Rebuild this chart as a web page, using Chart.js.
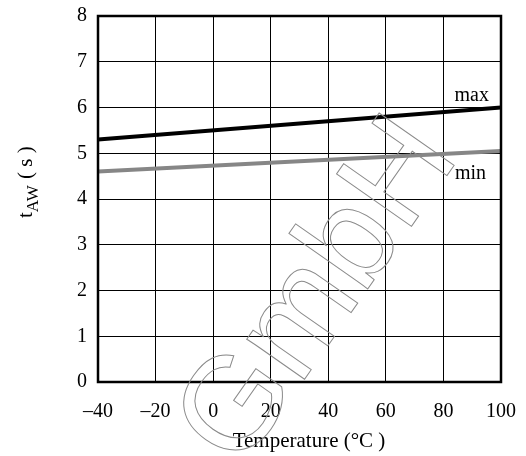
<!DOCTYPE html>
<html>
<head>
<meta charset="utf-8">
<script src="https://cdn.jsdelivr.net/npm/chart.js@4.4.1/dist/chart.umd.min.js"></script>
<style>
    body { margin: 0; background: #fff; }
    #wrap { width: 526px; height: 456px; position: relative; }
</style>
</head>
<body>
<div id="wrap"><canvas id="tawChart"></canvas></div>
<script>
// values
const temperatures = [-40, 100];
const tawMax = [5.3, 6.0];
const tawMin = [4.6, 5.05];
const xTicks = [-40, -20, 0, 20, 40, 60, 80, 100];
const yTicks = [0, 1, 2, 3, 4, 5, 6, 7, 8];

const serif = "'Liberation Serif', 'DejaVu Serif', serif";

// frame, axis titles, curve labels and the watermark
const decorations = {
    id: "decorations",
    afterDatasetsDraw(chart) {
        const ctx = chart.ctx;
        const area = chart.chartArea;
        const xs = chart.scales.x;
        const ys = chart.scales.y;

        ctx.save();
        ctx.strokeStyle = "#000";
        ctx.lineWidth = 2.5;
        ctx.strokeRect(area.left, area.top, area.right - area.left, area.bottom - area.top);

        ctx.fillStyle = "#000";
        ctx.font = "20px " + serif;
        ctx.textBaseline = "alphabetic";
        ctx.textAlign = "right";
        ctx.fillText("max", xs.getPixelForValue(100) - 12, ys.getPixelForValue(6.0) - 7);
        ctx.fillText("min", xs.getPixelForValue(100) - 15, ys.getPixelForValue(5.05) + 28);

        // x title
        ctx.textAlign = "center";
        ctx.font = "21px " + serif;
        ctx.fillText("Temperature (°C )", 309, 447);

        // y title with subscript
        ctx.translate(32, 218);
        ctx.rotate(-Math.PI / 2);
        ctx.textAlign = "left";
        ctx.font = "21px " + serif;
        ctx.fillText("t", 0, 0);
        let w = ctx.measureText("t").width;
        ctx.font = "17px " + serif;
        ctx.fillText("AW", w, 6);
        w += ctx.measureText("AW").width;
        ctx.font = "21px " + serif;
        ctx.fillText(" ( s )", w + 1, 0);
        ctx.restore();

        // watermark
        ctx.save();
        ctx.translate(320, 293);
        ctx.rotate(-55 * Math.PI / 180);
        ctx.font = "133px 'Liberation Sans', Arial, sans-serif";
        ctx.textAlign = "center";
        ctx.textBaseline = "middle";
        ctx.strokeStyle = "#8a8a8a";
        ctx.lineWidth = 1;
        ctx.strokeText("GmbH", 0, 0);
        ctx.restore();
    }
};

const ctx = document.getElementById("tawChart").getContext("2d");
new Chart(ctx, {
    type: "line",
    data: {
        datasets: [
            {
                label: "max",
                data: temperatures.map((t, i) => ({ x: t, y: tawMax[i] })),
                borderColor: "#000000",
                borderWidth: 4,
                pointRadius: 0,
                fill: false,
            },
            {
                label: "min",
                data: temperatures.map((t, i) => ({ x: t, y: tawMin[i] })),
                borderColor: "#868686",
                borderWidth: 4,
                pointRadius: 0,
                fill: false,
            },
        ],
    },
    options: {
        responsive: true,
        maintainAspectRatio: false,
        animation: false,
        layout: { padding: { top: 16, right: 25, left: 0, bottom: 0 } },
        plugins: {
            legend: { display: false },
            tooltip: { enabled: false },
        },
        scales: {
            x: {
                type: "linear",
                min: xTicks[0],
                max: xTicks[xTicks.length - 1],
                afterBuildTicks: (axis) => { axis.ticks = xTicks.map(v => ({ value: v })); },
                afterFit: (axis) => {
                    axis.height = 74;
                    axis.paddingLeft = 0;
                    axis.paddingRight = 0;
                },
                grid: { color: "#000", lineWidth: 1, drawTicks: false },
                border: { display: false },
                ticks: {
                    color: "#000",
                    padding: 18,
                    maxRotation: 0,
                    font: { family: serif, size: 20 },
                    callback: (v) => String(v).replace("-", "\u2013"),
                },
            },
            y: {
                type: "linear",
                min: yTicks[0],
                max: yTicks[yTicks.length - 1],
                afterBuildTicks: (axis) => { axis.ticks = yTicks.map(v => ({ value: v })); },
                afterFit: (axis) => {
                    axis.width = 98;
                    axis.paddingTop = 0;
                    axis.paddingBottom = 0;
                },
                grid: { color: "#000", lineWidth: 1, drawTicks: false },
                border: { display: false },
                ticks: {
                    color: "#000",
                    padding: 11,
                    font: { family: serif, size: 20 },
                },
            },
        },
    },
    plugins: [decorations],
});
</script>
</body>
</html>
